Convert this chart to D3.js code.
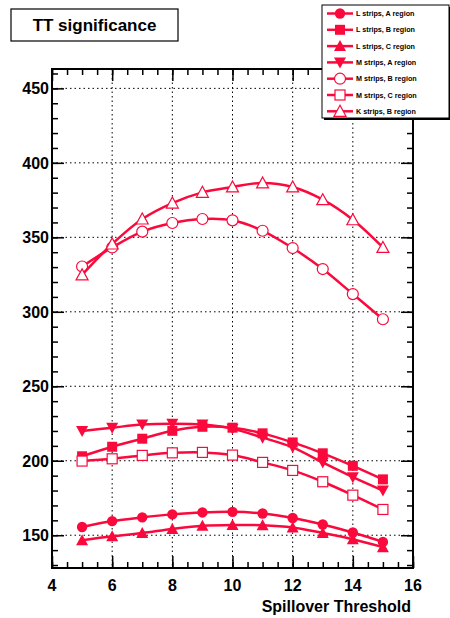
<!DOCTYPE html>
<html>
<head>
<meta charset="utf-8">
<script src="https://cdn.jsdelivr.net/npm/d3@7"></script>
<style>
  body { margin: 0; background: #fff; }
  text { font-family: "Liberation Sans", Arial, sans-serif; font-weight: bold; }
</style>
</head>
<body>
<div id="chart"></div>
<script>
var svgWidth = 450;
var svgHeight = 618;

var margin = { top: 69, right: 37, bottom: 50, left: 52 };
var width = svgWidth - margin.left - margin.right;
var height = svgHeight - margin.top - margin.bottom;

var red = "#fa0a3c";

// Data
var thresholds = [5, 6, 7, 8, 9, 10, 11, 12, 13, 14, 15];
var lStripsA = [155.5, 159.5, 162, 164, 165.3, 165.7, 164.6, 161.6, 157.2, 151.8, 145.5];
var lStripsB = [203, 209.4, 214.8, 220.1, 222.8, 222.2, 218.4, 212.3, 205, 196.6, 187.5];
var lStripsC = [146.6, 149.3, 151.5, 154.2, 156.3, 156.9, 156.7, 155.2, 151.5, 147.3, 142];
var mStripsA = [220, 222.2, 224.3, 224.8, 224.3, 221.5, 215.5, 209, 198.8, 189, 180];
var mStripsB = [330.4, 343.2, 353.8, 359.6, 362.3, 361.4, 354.4, 342.8, 328.7, 311.9, 295];
var mStripsC = [199.8, 201.3, 203.6, 205.3, 205.6, 203.8, 198.9, 193.5, 185.9, 176.9, 167.3];
var kStripsB = [324.8, 345.5, 362.3, 373, 380.2, 383.8, 386.5, 383.8, 375.3, 361.8, 343.2];

var seriesNames = ["L strips, A region", "L strips, B region", "L strips, C region",
  "M strips, A region", "M strips, B region", "M strips, C region", "K strips, B region"];
var seriesValues = [lStripsA, lStripsB, lStripsC, mStripsA, mStripsB, mStripsC, kStripsB];
var seriesMarkers = ["circle", "square", "triangle", "triangleDown", "openCircle", "openSquare", "openTriangle"];

var xTicks = [4, 6, 8, 10, 12, 14, 16];
var yTicks = [150, 200, 250, 300, 350, 400, 450];

var svg = d3.select("#chart")
  .append("svg")
  .attr("width", svgWidth)
  .attr("height", svgHeight);

var chartGroup = svg.append("g")
  .attr("transform", `translate(${margin.left}, ${margin.top})`);

var xScale = d3.scaleLinear().domain([4, 16]).range([0, width]);
var yScale = d3.scaleLinear().domain([128, 463]).range([height, 0]);

// dotted grid
chartGroup.append("g")
  .selectAll("line")
  .data(xTicks.slice(1, -1))
  .enter()
  .append("line")
  .attr("x1", d => xScale(d)).attr("x2", d => xScale(d))
  .attr("y1", 0).attr("y2", height)
  .attr("stroke", "#000")
  .attr("stroke-width", 1)
  .attr("stroke-dasharray", "1.5,3");

chartGroup.append("g")
  .selectAll("line")
  .data(yTicks)
  .enter()
  .append("line")
  .attr("x1", 0).attr("x2", width)
  .attr("y1", d => yScale(d)).attr("y2", d => yScale(d))
  .attr("stroke", "#000")
  .attr("stroke-width", 1)
  .attr("stroke-dasharray", "1.5,3");

// axes (ticks pointing inward, on all four sides)
var xMinor = d3.range(4, 16.01, 0.5);
var yMinor = d3.range(130, 461, 10);

function drawAxis(axis, transform) {
  chartGroup.append("g")
    .attr("transform", transform)
    .call(axis)
    .call(g => g.select(".domain").remove())
    .call(g => g.selectAll("line").attr("stroke", "#000").attr("stroke-width", 1.5))
    .call(g => g.selectAll("text").remove());
}

drawAxis(d3.axisBottom(xScale).tickValues(xMinor).tickSize(-6), `translate(0, ${height})`);
drawAxis(d3.axisBottom(xScale).tickValues(xTicks).tickSize(-12), `translate(0, ${height})`);
drawAxis(d3.axisTop(xScale).tickValues(xMinor).tickSize(-6), "translate(0, 0)");
drawAxis(d3.axisTop(xScale).tickValues(xTicks).tickSize(-12), "translate(0, 0)");
drawAxis(d3.axisLeft(yScale).tickValues(yMinor).tickSize(-6), "translate(0, 0)");
drawAxis(d3.axisLeft(yScale).tickValues(yTicks).tickSize(-12), "translate(0, 0)");
drawAxis(d3.axisRight(yScale).tickValues(yMinor).tickSize(-6), `translate(${width}, 0)`);
drawAxis(d3.axisRight(yScale).tickValues(yTicks).tickSize(-12), `translate(${width}, 0)`);

// frame
chartGroup.append("rect")
  .attr("width", width)
  .attr("height", height)
  .attr("fill", "none")
  .attr("stroke", "#000")
  .attr("stroke-width", 2);

// tick labels
chartGroup.append("g")
  .selectAll("text")
  .data(xTicks)
  .enter()
  .append("text")
  .attr("x", d => xScale(d))
  .attr("y", height + 23)
  .attr("text-anchor", "middle")
  .style("font-size", "16px")
  .text(d => d);

chartGroup.append("g")
  .selectAll("text")
  .data(yTicks)
  .enter()
  .append("text")
  .attr("x", -3)
  .attr("y", d => yScale(d) + 6)
  .attr("text-anchor", "end")
  .style("font-size", "16px")
  .text(d => d);

chartGroup.append("text")
  .attr("x", width - 2)
  .attr("y", height + 44)
  .attr("text-anchor", "end")
  .style("font-size", "16px")
  .text("Spillover Threshold");

// markers
function drawMarker(g, type, x, y) {
  if (type === "circle" || type === "openCircle") {
    g.append("circle").attr("cx", x).attr("cy", y).attr("r", type === "circle" ? 5.2 : 5.5)
      .attr("fill", type === "circle" ? red : "#fff")
      .attr("stroke", red).attr("stroke-width", type === "circle" ? 0 : 1.2);
  } else if (type === "square" || type === "openSquare") {
    g.append("rect").attr("x", x - 5).attr("y", y - 5).attr("width", 10).attr("height", 10)
      .attr("fill", type === "square" ? red : "#fff")
      .attr("stroke", red).attr("stroke-width", type === "square" ? 0 : 1.2);
  } else {
    var s = type === "triangleDown" ? -1 : 1;
    var pts = [[x - 6, y + 5 * s], [x + 6, y + 5 * s], [x, y - 6 * s]];
    g.append("path").attr("d", d3.line()(pts) + "Z")
      .attr("fill", type === "openTriangle" ? "#fff" : red)
      .attr("stroke", red).attr("stroke-width", type === "openTriangle" ? 1.2 : 0);
  }
}

var line = d3.line()
  .x((d, i) => xScale(thresholds[i]))
  .y(d => yScale(d))
  .curve(d3.curveCatmullRom);

var seriesGroup = chartGroup.append("g");
seriesValues.forEach(function(values, k) {
  var g = seriesGroup.append("g");
  g.append("path")
    .attr("d", line(values))
    .attr("fill", "none")
    .attr("stroke", red)
    .attr("stroke-width", 2.5);
  values.forEach(function(v, i) {
    drawMarker(g, seriesMarkers[k], xScale(thresholds[i]), yScale(v));
  });
});

// title box
svg.append("rect")
  .attr("x", 11).attr("y", 9)
  .attr("width", 167).attr("height", 32)
  .attr("fill", "#fff")
  .attr("stroke", "#000")
  .attr("stroke-width", 1.2);

svg.append("text")
  .attr("x", 94.5)
  .attr("y", 31)
  .attr("text-anchor", "middle")
  .style("font-size", "17px")
  .text("TT significance");

// legend
var legX = 322, legY = 5, legW = 127, legH = 113;
svg.append("rect")
  .attr("x", legX + 2).attr("y", legY + 2)
  .attr("width", legW).attr("height", legH)
  .attr("fill", "#000");
svg.append("rect")
  .attr("x", legX).attr("y", legY)
  .attr("width", legW).attr("height", legH)
  .attr("fill", "#fff")
  .attr("stroke", "#000")
  .attr("stroke-width", 1);

var legendGroup = svg.append("g");
seriesNames.forEach(function(name, k) {
  var cy = legY + 8.5 + k * 16.3;
  legendGroup.append("line")
    .attr("x1", legX + 5).attr("x2", legX + 31)
    .attr("y1", cy).attr("y2", cy)
    .attr("stroke", red)
    .attr("stroke-width", 2.5);
  drawMarker(legendGroup, seriesMarkers[k], legX + 18, cy);
  legendGroup.append("text")
    .attr("x", legX + 34)
    .attr("y", cy + 2.6)
    .style("font-size", "7.2px")
    .text(name);
});
</script>
</body>
</html>
